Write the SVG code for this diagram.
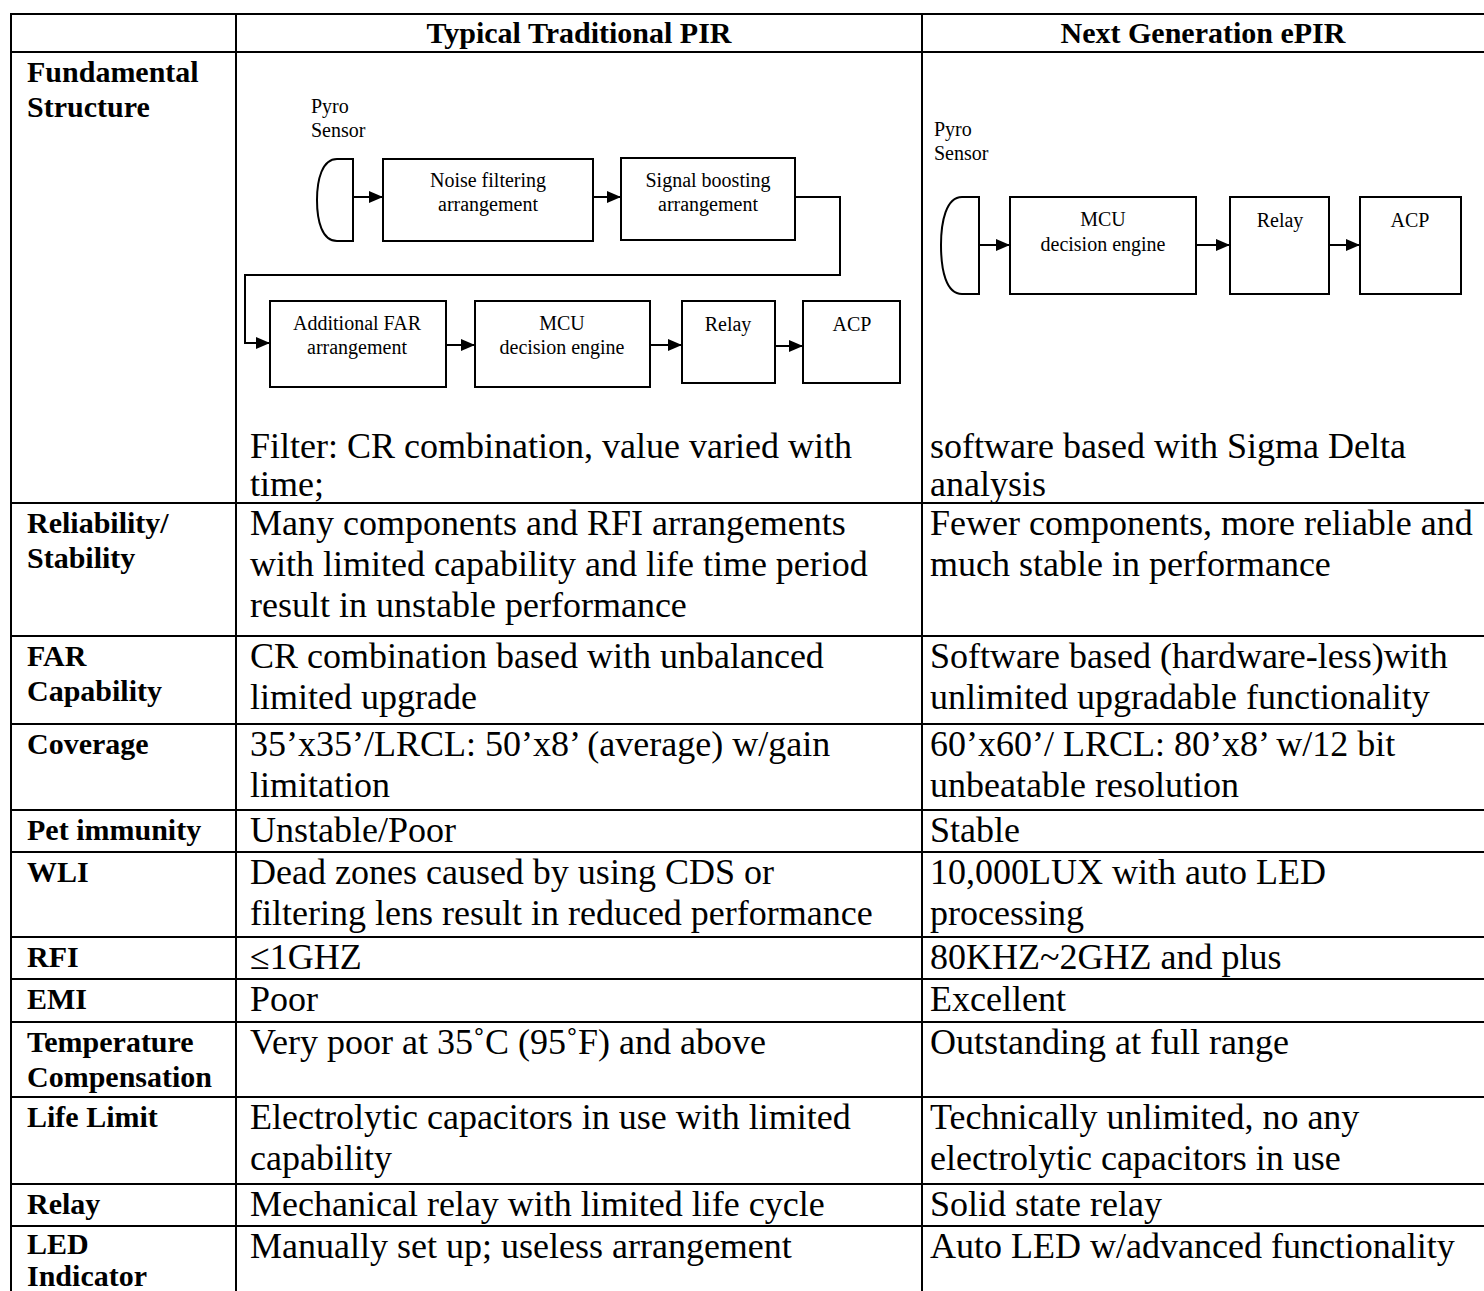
<svg xmlns="http://www.w3.org/2000/svg" width="1484" height="1291" viewBox="0 0 1484 1291">
  <style>
    .grid { stroke: #000; stroke-width: 2; fill: none; }
    .hd { font-family: "Liberation Serif", "Times New Roman", serif; font-weight: bold; font-size: 30px; fill: #000; }
    .lb { font-family: "Liberation Serif", "Times New Roman", serif; font-weight: bold; font-size: 30px; fill: #000; }
    .tx { font-family: "Liberation Serif", "Times New Roman", serif; font-size: 36px; fill: #000; }
    .dg { font-family: "Liberation Serif", "Times New Roman", serif; font-size: 20px; fill: #000; }
    .box { fill: #fff; stroke: #000; stroke-width: 2; }
    .wire { fill: none; stroke: #000; stroke-width: 2; }
  </style>
  <defs>
    <marker id="arrow" viewBox="0 0 14 12" refX="14" refY="6" markerWidth="14" markerHeight="12" markerUnits="userSpaceOnUse" orient="auto">
      <path d="M0,0 L14,6 L0,12 Z" fill="#000"/>
    </marker>
  </defs>

  <rect x="0" y="0" width="1484" height="1291" fill="#fff"/>

  <!-- table grid -->
  <g id="grid" class="grid">
    <line x1="11" y1="14" x2="1484" y2="14"/>
    <line x1="11" y1="52" x2="1484" y2="52"/>
    <line x1="11" y1="503" x2="1484" y2="503"/>
    <line x1="11" y1="636" x2="1484" y2="636"/>
    <line x1="11" y1="724" x2="1484" y2="724"/>
    <line x1="11" y1="810" x2="1484" y2="810"/>
    <line x1="11" y1="852" x2="1484" y2="852"/>
    <line x1="11" y1="937" x2="1484" y2="937"/>
    <line x1="11" y1="979" x2="1484" y2="979"/>
    <line x1="11" y1="1022" x2="1484" y2="1022"/>
    <line x1="11" y1="1097" x2="1484" y2="1097"/>
    <line x1="11" y1="1184" x2="1484" y2="1184"/>
    <line x1="11" y1="1226" x2="1484" y2="1226"/>
    <line x1="11" y1="13" x2="11" y2="1291"/>
    <line x1="236" y1="13" x2="236" y2="1291"/>
    <line x1="922" y1="13" x2="922" y2="1291"/>
  </g>

  <!-- column headings -->
  <g id="header">
    <text class="hd" x="579" y="43" text-anchor="middle">Typical Traditional PIR</text>
    <text class="hd" x="1203" y="43" text-anchor="middle">Next Generation ePIR</text>
  </g>

  <!-- row labels -->
  <g id="labels" class="lb">
    <text x="27" y="82">Fundamental</text>
    <text x="27" y="117">Structure</text>
    <text x="27" y="533">Reliability/</text>
    <text x="27" y="568">Stability</text>
    <text x="27" y="666">FAR</text>
    <text x="27" y="701">Capability</text>
    <text x="27" y="754">Coverage</text>
    <text x="27" y="840">Pet immunity</text>
    <text x="27" y="882">WLI</text>
    <text x="27" y="967">RFI</text>
    <text x="27" y="1009">EMI</text>
    <text x="27" y="1052">Temperature</text>
    <text x="27" y="1087">Compensation</text>
    <text x="27" y="1127">Life Limit</text>
    <text x="27" y="1214">Relay</text>
    <text x="27" y="1254">LED</text>
    <text x="27" y="1286">Indicator</text>
  </g>

  <!-- traditional PIR column -->
  <g id="col-traditional" class="tx">
    <text x="250" y="458">Filter: CR combination, value varied with</text>
    <text x="250" y="496">time;</text>
    <text x="250" y="535">Many components and RFI arrangements</text>
    <text x="250" y="576">with limited capability and life time period</text>
    <text x="250" y="617">result in unstable performance</text>
    <text x="250" y="668">CR combination based with unbalanced</text>
    <text x="250" y="709">limited upgrade</text>
    <text x="250" y="756">35’x35’/LRCL: 50’x8’ (average) w/gain</text>
    <text x="250" y="797">limitation</text>
    <text x="250" y="842">Unstable/Poor</text>
    <text x="250" y="884">Dead zones caused by using CDS or</text>
    <text x="250" y="925">filtering lens result in reduced performance</text>
    <text x="250" y="969">≤1GHZ</text>
    <text x="250" y="1011">Poor</text>
    <text x="250" y="1054">Very poor at 35˚C (95˚F) and above</text>
    <text x="250" y="1129">Electrolytic capacitors in use with limited</text>
    <text x="250" y="1170">capability</text>
    <text x="250" y="1216">Mechanical relay with limited life cycle</text>
    <text x="250" y="1258">Manually set up; useless arrangement</text>
  </g>

  <!-- ePIR column -->
  <g id="col-epir" class="tx">
    <text x="930" y="458">software based with Sigma Delta</text>
    <text x="930" y="496">analysis</text>
    <text x="930" y="535">Fewer components, more reliable and</text>
    <text x="930" y="576">much stable in performance</text>
    <text x="930" y="668">Software based (hardware-less)with</text>
    <text x="930" y="709">unlimited upgradable functionality</text>
    <text x="930" y="756">60’x60’/ LRCL: 80’x8’ w/12 bit</text>
    <text x="930" y="797">unbeatable resolution</text>
    <text x="930" y="842">Stable</text>
    <text x="930" y="884">10,000LUX with auto LED</text>
    <text x="930" y="925">processing</text>
    <text x="930" y="969">80KHZ~2GHZ and plus</text>
    <text x="930" y="1011">Excellent</text>
    <text x="930" y="1054">Outstanding at full range</text>
    <text x="930" y="1129">Technically unlimited, no any</text>
    <text x="930" y="1170">electrolytic capacitors in use</text>
    <text x="930" y="1216">Solid state relay</text>
    <text x="930" y="1258">Auto LED w/advanced functionality</text>
  </g>

  <!-- connectors of both block chains -->
  <g id="connectors" class="wire">
    <line x1="353" y1="197" x2="383" y2="197" marker-end="url(#arrow)"/>
    <line x1="593" y1="197" x2="621" y2="197" marker-end="url(#arrow)"/>
    <polyline points="795,197 840,197 840,275 245,275 245,343 270,343" marker-end="url(#arrow)"/>
    <line x1="446" y1="345" x2="475" y2="345" marker-end="url(#arrow)"/>
    <line x1="650" y1="345" x2="682" y2="345" marker-end="url(#arrow)"/>
    <line x1="775" y1="346" x2="803" y2="346" marker-end="url(#arrow)"/>
    <line x1="979" y1="245" x2="1010" y2="245" marker-end="url(#arrow)"/>
    <line x1="1196" y1="245" x2="1230" y2="245" marker-end="url(#arrow)"/>
    <line x1="1329" y1="245" x2="1360" y2="245" marker-end="url(#arrow)"/>
  </g>

  <!-- traditional PIR block chain -->
  <g id="t-sensor">
    <text class="dg" x="311" y="113">Pyro</text>
    <text class="dg" x="311" y="137">Sensor</text>
    <path class="box" d="M353,159 H337 C322,159 317,180 317,200 C317,221 322,241 337,241 H353 Z"/>
  </g>
  <g id="t-noise">
    <rect class="box" x="383" y="159" width="210" height="82"/>
    <text class="dg" x="488" y="187" text-anchor="middle">Noise filtering</text>
    <text class="dg" x="488" y="211" text-anchor="middle">arrangement</text>
  </g>
  <g id="t-boost">
    <rect class="box" x="621" y="158" width="174" height="82"/>
    <text class="dg" x="708" y="187" text-anchor="middle">Signal boosting</text>
    <text class="dg" x="708" y="211" text-anchor="middle">arrangement</text>
  </g>
  <g id="t-far">
    <rect class="box" x="270" y="301" width="176" height="86"/>
    <text class="dg" x="357" y="330" text-anchor="middle">Additional FAR</text>
    <text class="dg" x="357" y="354" text-anchor="middle">arrangement</text>
  </g>
  <g id="t-mcu">
    <rect class="box" x="475" y="301" width="175" height="86"/>
    <text class="dg" x="562" y="330" text-anchor="middle">MCU</text>
    <text class="dg" x="562" y="354" text-anchor="middle">decision engine</text>
  </g>
  <g id="t-relay">
    <rect class="box" x="682" y="301" width="93" height="82"/>
    <text class="dg" x="728" y="331" text-anchor="middle">Relay</text>
  </g>
  <g id="t-acp">
    <rect class="box" x="803" y="301" width="97" height="82"/>
    <text class="dg" x="852" y="331" text-anchor="middle">ACP</text>
  </g>

  <!-- ePIR block chain -->
  <g id="e-sensor">
    <text class="dg" x="934" y="136">Pyro</text>
    <text class="dg" x="934" y="160">Sensor</text>
    <path class="box" d="M979,197 H962 C946,197 941,222 941,245 C941,270 946,294 962,294 H979 Z"/>
  </g>
  <g id="e-mcu">
    <rect class="box" x="1010" y="197" width="186" height="97"/>
    <text class="dg" x="1103" y="226" text-anchor="middle">MCU</text>
    <text class="dg" x="1103" y="251" text-anchor="middle">decision engine</text>
  </g>
  <g id="e-relay">
    <rect class="box" x="1230" y="197" width="99" height="97"/>
    <text class="dg" x="1280" y="227" text-anchor="middle">Relay</text>
  </g>
  <g id="e-acp">
    <rect class="box" x="1360" y="197" width="101" height="97"/>
    <text class="dg" x="1410" y="227" text-anchor="middle">ACP</text>
  </g>
</svg>
